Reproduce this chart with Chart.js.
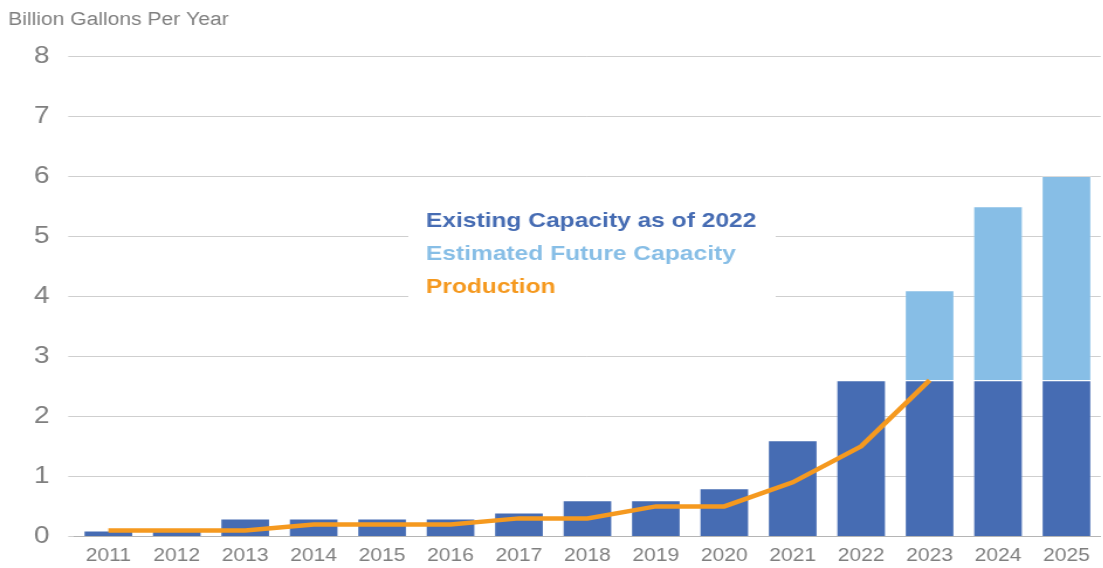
<!DOCTYPE html>
<html>
<head>
<meta charset="utf-8">
<script src="https://cdn.jsdelivr.net/npm/chart.js@4.4.0/dist/chart.umd.min.js"></script>
<style>
  html, body { margin: 0; padding: 0; background: #fff; overflow: hidden; }
  /* the reference is drawn a little wide, so the chart is stretched horizontally */
  #wrap { width: 943px; height: 568px; transform: scaleX(1.17); transform-origin: 0 0; }
</style>
</head>
<body>
<div id="wrap"><canvas id="chart"></canvas></div>
<script>
const years = ["2011","2012","2013","2014","2015","2016","2017","2018","2019","2020","2021","2022","2023","2024","2025"];
const existingCapacity = [0.1,0.1,0.3,0.3,0.3,0.3,0.4,0.6,0.6,0.8,1.6,2.6,2.6,2.6,2.6];
const futureCapacity = [0,0,0,0,0,0,0,0,0,0,0,0,1.5,2.9,3.4];
const production = [0.1,0.1,0.1,0.2,0.2,0.2,0.3,0.3,0.5,0.5,0.9,1.5,2.6,null,null];
const yTicks = [0,1,2,3,4,5,6,7,8];

const DARK_BLUE = "#466cb3";
const LIGHT_BLUE = "#87bee6";
const ORANGE = "#f5991f";
const GREY = "#7f7f7f";
const FONT = "'Liberation Sans', Arial, Helvetica, sans-serif";

// legend box + axis title drawn on the canvas
const overlay = {
  id: "overlay",
  beforeDatasetsDraw(chart) {
    const ctx = chart.ctx;
    ctx.save();
    ctx.fillStyle = "#fff";
    ctx.fillRect(349, 192, 314, 116);
    const items = [
      ["Existing Capacity as of 2022", DARK_BLUE],
      ["Estimated Future Capacity", LIGHT_BLUE],
      ["Production", ORANGE]
    ];
    ctx.font = "bold 21px " + FONT;
    ctx.textBaseline = "alphabetic";
    items.forEach((it, i) => {
      ctx.fillStyle = it[1];
      ctx.fillText(it[0], 364, 227 + i * 33);
    });
    ctx.font = "18px " + FONT;
    ctx.fillStyle = GREY;
    ctx.textBaseline = "middle";
    ctx.fillText("Billion Gallons Per Year", 7, 20);
    ctx.restore();
  }
};

new Chart(document.getElementById("chart"), {
  type: "bar",
  data: {
    labels: years,
    datasets: [
      {
        type: "line",
        label: "Production",
        data: production,
        borderColor: ORANGE,
        borderWidth: 4.5,
        pointRadius: 0,
        tension: 0,
        order: 0,
        stack: "prod"
      },
      {
        label: "Existing Capacity as of 2022",
        data: existingCapacity,
        backgroundColor: DARK_BLUE,
        borderColor: "rgba(255,255,255,0.25)",
        borderWidth: 1,
        order: 1,
        stack: "cap",
        barPercentage: 0.73,
        categoryPercentage: 1
      },
      {
        label: "Estimated Future Capacity",
        data: futureCapacity,
        backgroundColor: LIGHT_BLUE,
        borderColor: "rgba(255,255,255,0.25)",
        borderWidth: 1,
        order: 1,
        stack: "cap",
        barPercentage: 0.73,
        categoryPercentage: 1
      }
    ]
  },
  options: {
    responsive: true,
    maintainAspectRatio: false,
    animation: false,
    layout: { padding: { top: 56, left: 13, right: 2, bottom: -8 } },
    plugins: {
      legend: { display: false },
      tooltip: { enabled: false }
    },
    scales: {
      x: {
        stacked: true,
        grid: { display: false, drawTicks: false },
        border: { color: "#b5b5b5", width: 1 },
        ticks: { color: GREY, font: { family: FONT, size: 18 }, padding: 9 }
      },
      y: {
        stacked: true,
        min: 0,
        max: 8,
        afterBuildTicks: (scale) => { scale.ticks = yTicks.map(v => ({ value: v })); },
        grid: { color: "#cfcfcf", tickLength: 5, drawTicks: true },
        border: { display: false },
        ticks: { color: GREY, font: { family: FONT, size: 24 }, padding: 16 }
      }
    }
  },
  plugins: [overlay]
});
</script>
</body>
</html>
